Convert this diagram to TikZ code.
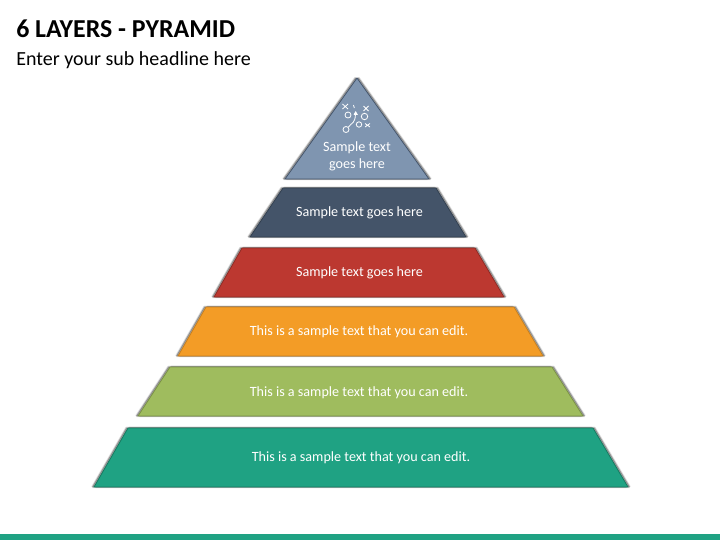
\documentclass[tikz,border=0pt]{standalone}
\usepackage{fontspec}
\setmainfont{Carlito}
\definecolor{teal6}{HTML}{1FA283}
\definecolor{teal6d}{HTML}{17785F}
\definecolor{green5}{HTML}{9FBC5E}
\definecolor{green5d}{HTML}{7A9145}
\definecolor{orange4}{HTML}{F39C26}
\definecolor{orange4d}{HTML}{C67F1E}
\definecolor{red3}{HTML}{BC3830}
\definecolor{red3d}{HTML}{8C2A24}
\definecolor{navy2}{HTML}{445469}
\definecolor{navy2d}{HTML}{323F4F}
\definecolor{blue1}{HTML}{7F95B0}
\definecolor{blue1d}{HTML}{44546A}
\newcommand{\layer}[3]{%
  \foreach \s in {-1.2pt,1.2pt}{
    \foreach \w in {2.4,1.4,0.6}{
      \fill[black,opacity=.1,draw=black,line width=\w*0.75pt,line join=bevel,xshift=\s,yshift=0.1pt] #3 -- cycle;
    }
  }
  \fill[#1] #3 -- cycle;
  \draw[#2,line width=0.6pt,line join=miter] #3 -- cycle;
}
\tikzset{
  lbl/.style={text=white,font=\fontsize{10.6pt}{12.75pt}\selectfont,align=center,inner sep=0pt},
  icon/.style={white,line width=0.6pt},
}
\begin{document}
\begin{tikzpicture}[x=0.75pt,y=-0.75pt]
\useasboundingbox (0,0) rectangle (720,540);
\fill[teal6] (0,534) rectangle (720,540);
\node[anchor=base west,inner sep=0pt,font=\bfseries\fontsize{19.4pt}{22pt}\selectfont] (title) at (16,37) {6 LAYERS - PYRAMID};
\node[anchor=base west,inner sep=0pt,font=\fontsize{15pt}{18pt}\selectfont] (sub) at (16,65.7) {Enter your sub headline here};
\layer{blue1}{blue1d}{(357,78) -- (429,179) -- (285,179)}
\layer{navy2}{navy2d}{(283,188) -- (436,188) -- (466,237) -- (250,237)}
\layer{red3}{red3d}{(242,248) -- (475,248) -- (504,297) -- (214,297)}
\layer{orange4}{orange4d}{(206,307) -- (514,307) -- (543,356) -- (178,356)}
\layer{green5}{green5d}{(170,367) -- (552,367) -- (583,416) -- (138,416)}
\layer{teal6}{teal6d}{(128,428) -- (593,428) -- (628,487) -- (94,487)}
\node[lbl] (t1) at (357,156.7) {Sample text\\goes here};
\node[lbl] (t2) at (359.5,213.2) {Sample text goes here};
\node[lbl] (t3) at (359.5,273.2) {Sample text goes here};
\node[lbl] (t4) at (359,332.2) {This is a sample text that you can edit.};
\node[lbl] (t5) at (359,392.7) {This is a sample text that you can edit.};
\node[lbl] (t6) at (361,458.2) {This is a sample text that you can edit.};
% play-diagram icon
\draw[icon] (342.5,104) -- (348,109) (348,104) -- (342.5,109);
\draw[icon] (363.5,106) -- (368.5,111) (368.5,106) -- (363.5,111);
\draw[icon] (365,123.5) -- (370,127) (370,123.5) -- (365,127);
\draw[icon] (348,115) circle (3);
\draw[icon] (364.5,116.5) circle (3.2);
\draw[icon] (359,124.5) circle (2.7);
\draw[icon] (346,129.5) circle (3);
\draw[icon] (348.5,127) .. controls (352,122) and (355,124) .. (355.5,114);
\fill[white] (355.7,111) -- (358,115) -- (353.5,114.7) -- cycle;
\draw[icon] (353.5,105) -- (354.3,108);
\end{tikzpicture}
\end{document}
